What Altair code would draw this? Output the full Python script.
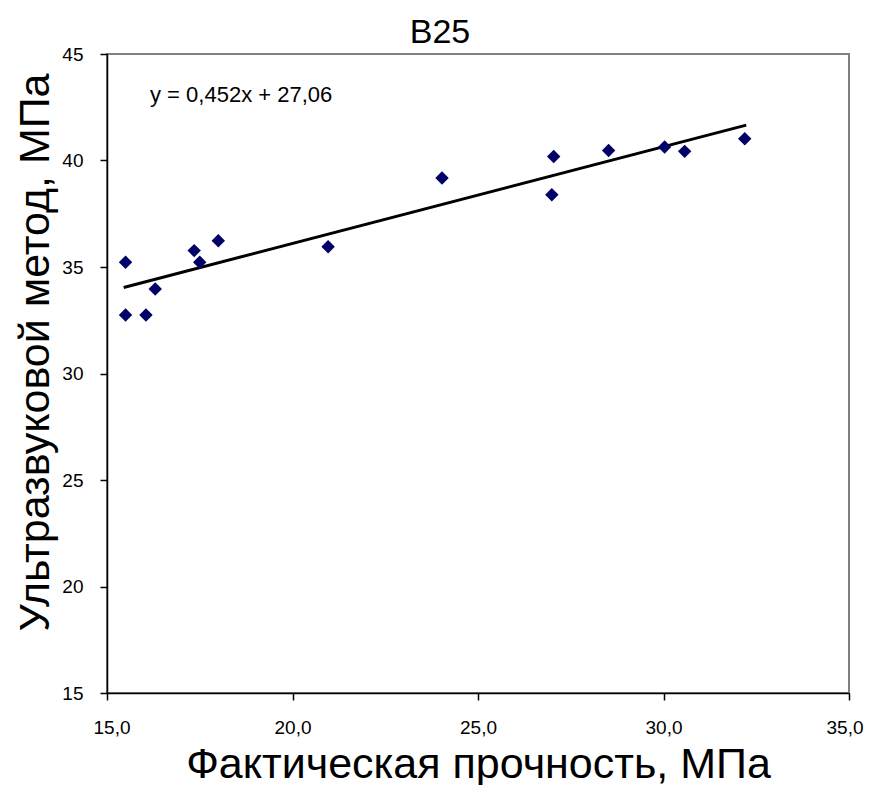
import altair as alt
import pandas as pd

# Data
x_fact = [15.5, 15.5, 16.05, 16.3, 17.35, 17.5, 18.0, 20.96, 24.03, 27.04, 26.99, 28.52, 30.03, 30.57, 32.19]
y_us = [35.22, 32.75, 32.75, 33.97, 35.77, 35.22, 36.23, 35.95, 39.18, 40.19, 38.39, 40.47, 40.63, 40.43, 41.02]
trend_x = [15.45, 32.23]
trend_y = [34.04, 41.66]
chart_title = "В25"
x_title = "Фактическая прочность, МПа"
y_title = "Ультразвуковой метод, МПа"
equation = ["y = 0,452x +  27,06"]
x_ticks = [15, 20, 25, 30, 35]
y_ticks = [15, 20, 25, 30, 35, 40, 45]

FONT = "Liberation Sans"

pts = pd.DataFrame({"x": x_fact, "y": y_us})
trend = pd.DataFrame({"x": trend_x, "y": trend_y})
eq = pd.DataFrame({"t": equation})

x_enc = alt.X(
    "x:Q",
    scale=alt.Scale(domain=[15, 35], nice=False, zero=False),
    axis=alt.Axis(
        values=x_ticks,
        title=x_title,
        labelExpr="replace(format(datum.value, '.1f'), '.', ',')",
        labelFlush=True,
        labelFlushOffset=14,
        labelPadding=18,
        titlePadding=6,
    ),
)
y_enc = alt.Y(
    "y:Q",
    scale=alt.Scale(domain=[15, 45], nice=False, zero=False),
    axis=alt.Axis(
        values=y_ticks,
        title=y_title,
        format="d",
        labelFlush=False,
        labelPadding=17,
        titlePadding=4,
        titleY=298,
    ),
)

points = alt.Chart(pts).mark_point(
    shape="diamond", filled=True, size=180, color="#000066", opacity=1
).encode(x=x_enc, y=y_enc)

line = alt.Chart(trend).mark_line(color="black", strokeWidth=3).encode(
    x="x:Q", y="y:Q"
)

eq_text = alt.Chart(eq).mark_text(
    align="left", baseline="middle", font=FONT, fontSize=22, color="black"
).encode(x=alt.value(43), y=alt.value(41), text="t:N")

chart = (
    alt.layer(line, points, eq_text)
    .properties(
        width=742,
        height=639,
        background="white",
        title=alt.TitleParams(
            chart_title,
            font=FONT,
            fontSize=34,
            fontWeight="normal",
            color="black",
            anchor="middle",
            dx=-38,
            offset=-5,
        ),
        autosize=alt.AutoSizeParams(type="none"),
        padding={"left": 99, "top": 46, "right": 15, "bottom": 92},
    )
    .configure_view(stroke="#808080", strokeWidth=2)
    .configure_axis(
        grid=False,
        domainColor="black",
        domainWidth=1.5,
        tickColor="black",
        tickSize=7,
        tickWidth=1.5,
        labelFont=FONT,
        labelFontSize=19,
        labelColor="black",
        titleFont=FONT,
        titleFontSize=43,
        titleFontWeight="normal",
        titleColor="black",
    )
)

chart.save("out.html", embed_options={"renderer": "svg", "actions": False})
